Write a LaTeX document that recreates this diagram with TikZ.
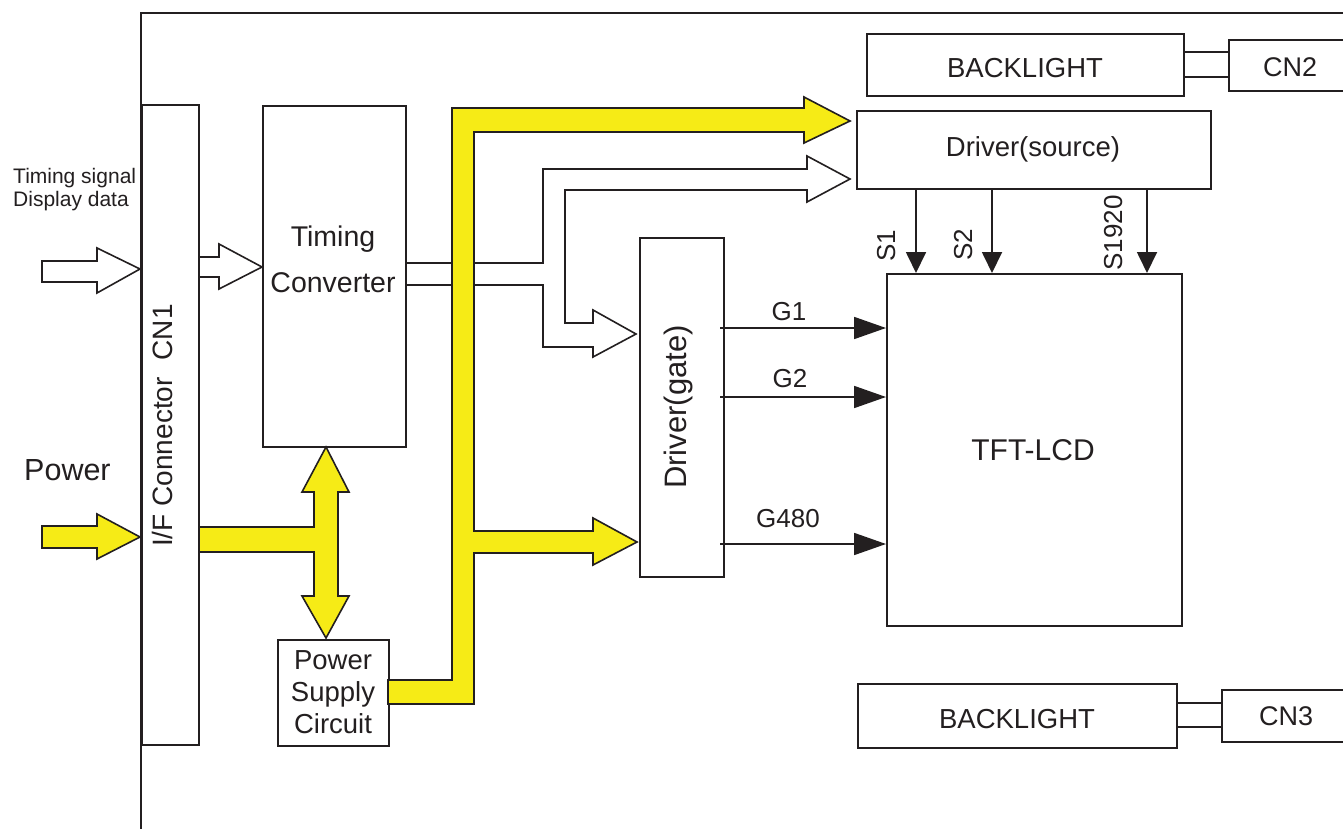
\documentclass[tikz,border=0pt]{standalone}
\usepackage{fontspec}
\setmainfont{Liberation Sans}
\usetikzlibrary{arrows.meta}
\definecolor{ink}{HTML}{231F20}
\definecolor{bus}{HTML}{F6EB16}
\newcommand{\fsz}[1]{\fontsize{#1}{#1}\selectfont}
\begin{document}
\begin{tikzpicture}[x=1pt,y=-1pt,
  blk/.style={draw=ink, line width=1.6pt, fill=white, inner sep=0pt, anchor=north west},
  lbl/.style={text=ink, inner sep=0pt, font=\fsz{27.5}},
  blockarrow/.style={draw=ink, line width=1.6pt, line join=miter},
  yarrow/.style={draw=ink, fill=bus, line width=1.6pt, line join=miter},
  conn/.style={draw=ink, line width=1.4pt},
  garr/.style={draw=ink, line width=1.8pt, -{Triangle[length=32pt,width=22pt]}},
  sarr/.style={draw=ink, line width=1.8pt, -{Triangle[length=21pt,width=20pt]}}
]
\useasboundingbox (0,0) rectangle (1343,829);
\clip (0,0) rectangle (1343,829);
\fill[white] (0,0) rectangle (1343,829);

% frame
\draw[ink, line width=1.8pt] (141,835) -- (141,13) -- (1350,13);

% boxes
\node[blk, minimum width=57pt, minimum height=640pt] (cn1) at (141,104) {};
\node[blk, minimum width=143pt, minimum height=341pt] (tc) at (262,105) {};
\node[blk, minimum width=111pt, minimum height=106pt] (psc) at (277,639) {};
\node[blk, minimum width=84pt, minimum height=339pt] (gate) at (639,237) {};
\node[blk, minimum width=354pt, minimum height=78pt] (src) at (856,110) {};
\node[blk, minimum width=295pt, minimum height=352pt] (tft) at (886,273) {};
\node[blk, minimum width=317pt, minimum height=62pt] (bl1) at (866,33) {};
\node[blk, minimum width=140pt, minimum height=51pt] (cn2) at (1228,39) {};
\node[blk, minimum width=319pt, minimum height=64pt] (bl2) at (857,683) {};
\node[blk, minimum width=140pt, minimum height=52pt] (cn3) at (1221,689) {};

% backlight connections
\draw[conn] (bl1.east |- 0,52) -- (cn2.west |- 0,52);
\draw[conn] (bl1.east |- 0,77) -- (cn2.west |- 0,77);
\draw[conn] (bl2.east |- 0,703) -- (cn3.west |- 0,703);
\draw[conn] (bl2.east |- 0,727) -- (cn3.west |- 0,727);

% input signal arrow
\draw[blockarrow, fill=white] (42,261) -- (97,261) -- (97,248) -- (140,269) -- (97,293) -- (97,282) -- (42,282) -- cycle;
% CN1 -> timing converter
\draw[blockarrow] (cn1.east |- 0,257) -- (219,257) -- (219,244) -- (tc.west |- 0,267) -- (219,289) -- (219,277) -- (cn1.east |- 0,277);
% timing converter -> drivers (forked hollow arrow)
\draw[blockarrow] (tc.east |- 0,263) -- (543,263) -- (543,169) -- (807,169) -- (807,156) -- (850,179) -- (807,202) -- (807,190) -- (565,190) -- (565,323) -- (593,323) -- (593,310) -- (636,334) -- (593,357) -- (593,347) -- (543,347) -- (543,285) -- (tc.east |- 0,285);

% power input arrow
\draw[yarrow] (42,526) -- (97,526) -- (97,514) -- (140,537) -- (97,559) -- (97,548) -- (42,548) -- cycle;
% CN1 -> double arrow between TC and PSC
\draw[yarrow] (199,527) -- (314,527) -- (314,492) -- (302,492) -- (326,447) -- (349,492) -- (338,492) -- (338,596) -- (349,596) -- (326,638) -- (302,596) -- (314,596) -- (314,552) -- (199,552) -- cycle;
% PSC power bus
\draw[yarrow] (388,680) -- (452,680) -- (452,108) -- (804,108) -- (804,97) -- (850,121) -- (804,143) -- (804,132) -- (474,132) -- (474,531) -- (593,531) -- (593,518) -- (637,542) -- (593,565) -- (593,553) -- (474,553) -- (474,704) -- (388,704) -- cycle;

% gate lines
\draw[garr] (720,328) -- (tft.west |- 0,328);
\draw[garr] (720,397) -- (tft.west |- 0,397);
\draw[garr] (720,544) -- (tft.west |- 0,544);
% source lines
\draw[sarr] (src.south -| 916,0) -- (tft.north -| 916,0);
\draw[sarr] (src.south -| 992,0) -- (tft.north -| 992,0);
\draw[sarr] (src.south -| 1147,0) -- (tft.north -| 1147,0);

% labels
\node[lbl, font=\fsz{21}, anchor=base west] (ts) at (13,183) {Timing signal};
\node[lbl, font=\fsz{21}, anchor=base west] (dd) at (13,207) {Display data};
\node[lbl, font=\fsz{30.5}, anchor=base west] (pw) at (24,480) {Power};
\node[lbl, font=\fsz{28}, anchor=base west, rotate=90] (cn1a) at (172,547) {I/F Connector};
\node[lbl, font=\fsz{28}, anchor=base east, rotate=90] (cn1b) at (172,304) {CN1};
\node[lbl, font=\fsz{28.5}, anchor=base] (tc1) at (333,246) {Timing};
\node[lbl, font=\fsz{28.5}, anchor=base] (tc2) at (333,292) {Converter};
\node[lbl, anchor=base] (ps1) at (333,669) {Power};
\node[lbl, anchor=base] (ps2) at (333,701) {Supply};
\node[lbl, anchor=base] (ps3) at (333,733) {Circuit};
\node[lbl, font=\fsz{31}, anchor=base, rotate=90] (gl) at (686,407) {Driver(gate)};
\node[lbl, anchor=base] (sl) at (1033,157) {Driver(source)};
\node[lbl, anchor=base] (b1l) at (1025,78) {BACKLIGHT};
\node[lbl, font=\fsz{27}, anchor=base] (c2l) at (1290,77) {CN2};
\node[lbl, anchor=base] (b2l) at (1017,728) {BACKLIGHT};
\node[lbl, font=\fsz{27}, anchor=base] (c3l) at (1286,725) {CN3};
\node[lbl, font=\fsz{30}, anchor=base] (tftl) at (1033,460) {TFT-LCD};
\node[lbl, font=\fsz{26}, anchor=base] (g1) at (789,320) {G1};
\node[lbl, font=\fsz{26}, anchor=base] (g2) at (790,387) {G2};
\node[lbl, font=\fsz{26}, anchor=base] (g3) at (788,527) {G480};
\node[lbl, font=\fsz{26}, anchor=base, rotate=90] (s1) at (895,246) {S1};
\node[lbl, font=\fsz{26}, anchor=base, rotate=90] (s2) at (972,245) {S2};
\node[lbl, font=\fsz{26}, anchor=base, rotate=90] (s3) at (1122,233) {S1920};
\end{tikzpicture}
\end{document}
